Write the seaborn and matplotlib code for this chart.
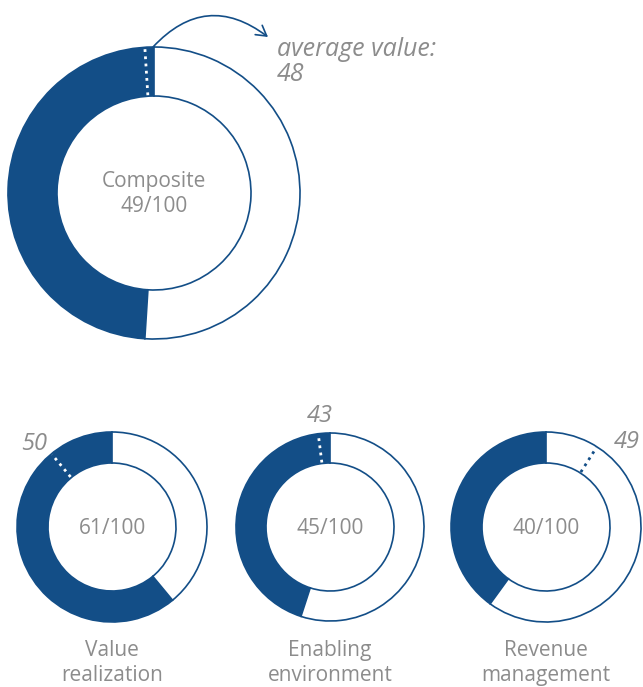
import numpy as np
import matplotlib
matplotlib.use("Agg")
import matplotlib.pyplot as plt
import seaborn as sns

# ---- data ----
names = ["Composite", "Value\nrealization", "Enabling\nenvironment", "Revenue\nmanagement"]
scores = [49, 61, 45, 40]
averages = [48, 50, 43, 49]

# ---- style ----
sns.set_theme(style="white")
plt.rcParams["font.family"] = ["Open Sans", "DejaVu Sans"]
BLUE = "#134e87"
GREY = "#8c8c8c"

W, H = 643, 687
fig = plt.figure(figsize=(W / 100, H / 100), dpi=100)
ax = fig.add_axes([0, 0, 1, 1])

# layout (pixel coords, y from top)
centers = [(154, 193), (112, 527), (330, 527), (546, 527)]
outer = [146, 95, 94, 95]
inner = [97, 64, 64, 64]


def Y(y):
    return H - y


for i, (v, avg) in enumerate(zip(scores, averages)):
    cx, cy = centers[i]
    R, r = outer[i], inner[i]
    ax.pie([v, 100 - v], colors=[BLUE, "white"], startangle=90, counterclock=True,
           center=(cx, Y(cy)), radius=R,
           wedgeprops=dict(width=R - r, edgecolor=BLUE, linewidth=1.2))
    # average marker
    a = np.deg2rad(90 + 3.6 * (v - avg))
    mcol = "white" if v - avg >= 0 else BLUE
    ax.plot([cx + (r + 1) * np.cos(a), cx + (R - 1) * np.cos(a)],
            [Y(cy) + (r + 1) * np.sin(a), Y(cy) + (R - 1) * np.sin(a)],
            color=mcol, lw=2.0, dashes=(1.0, 1.6), solid_capstyle="butt",
            dash_capstyle="butt", zorder=5)

# center texts
ax.text(centers[0][0], Y(194), f"Composite\n{scores[0]}/100", ha="center",
        va="center", fontsize=15, color=GREY, linespacing=1.2)
for i in range(1, 4):
    cx, cy = centers[i]
    ax.text(cx, Y(cy + 2), f"{scores[i]}/100", ha="center", va="center",
            fontsize=15, color=GREY)
    ax.text(cx, Y(663), names[i], ha="center", va="center", fontsize=15,
            color=GREY, linespacing=1.2)

# average labels
ax.text(277, Y(62), f"average value:\n{averages[0]}", ha="left", va="center",
        fontsize=18, style="italic", color=GREY, linespacing=1.05)
ax.text(47, Y(444), f"{averages[1]}", ha="right", va="center", fontsize=17,
        style="italic", color=GREY)
ax.text(320, Y(416), f"{averages[2]}", ha="center", va="center", fontsize=17,
        style="italic", color=GREY)
ax.text(614, Y(442), f"{averages[3]}", ha="left", va="center", fontsize=17,
        style="italic", color=GREY)

# arrow
ax.annotate("", xy=(268, Y(37)), xytext=(153, Y(47)),
            arrowprops=dict(arrowstyle="->,head_length=0.6,head_width=0.35",
                            connectionstyle="arc3,rad=-0.45", color=BLUE, lw=1.2,
                            shrinkA=0, shrinkB=0))

ax.set_xlim(0, W)
ax.set_ylim(0, H)
ax.set_aspect("equal")
ax.axis("off")
sns.despine(ax=ax, left=True, bottom=True)
fig.savefig("out.png", dpi=100)
